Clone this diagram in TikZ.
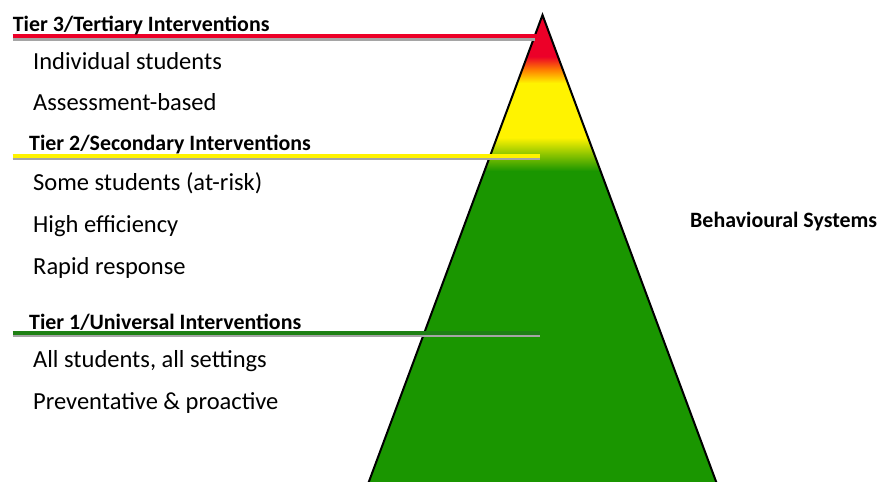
\documentclass[tikz,border=0pt]{standalone}
\usepackage{fontspec}
\setmainfont{Carlito}
\definecolor{tred}{RGB}{236,0,40}
\definecolor{tyellow}{RGB}{255,243,0}
\definecolor{tgreen}{RGB}{26,150,0}
\definecolor{lgreen}{RGB}{30,128,20}
\definecolor{shadowgray}{RGB}{165,165,165}
\tikzset{
  heading/.style={anchor=base west, inner sep=0pt, font=\fontsize{21.9}{24}\selectfont\bfseries},
  item/.style={anchor=base west, inner sep=0pt, font=\fontsize{24.5}{28}\selectfont},
  tierline/.style={line width=4pt},
  shadowline/.style={line width=2.5pt, shadowgray},
}
\begin{document}
\begin{tikzpicture}[x=1pt,y=-1pt]
\useasboundingbox (0,0) rectangle (881,482);
\coordinate (apex) at (542.5,15);
\coordinate (bl) at (365.8,490);
\coordinate (br) at (719.2,490);
% pyramid fill
\begin{scope}
  \clip (apex) -- (br) -- (bl) -- cycle;
  \fill[tred] (360,10) rectangle (725,57);
  \shade[top color=tred, bottom color=tyellow, middle color=orange] (360,56.5) rectangle (725,83);
  \fill[tyellow] (360,82.5) rectangle (725,138);
  \shade[top color=tyellow, bottom color=tgreen] (360,137.5) rectangle (725,171);
  \fill[tgreen] (360,170.5) rectangle (725,495);
\end{scope}
\draw[line width=2pt, line join=miter] (bl) -- (apex) -- (br);
% tier lines
\coordinate (l3a) at (12.5,36.3); \coordinate (l3b) at (541,36.3);
\coordinate (s3a) at (12.5,39.5); \coordinate (s3b) at (535,39.5);
\coordinate (l2a) at (12.5,156); \coordinate (l2b) at (540,156);
\coordinate (s2a) at (12.5,159.2); \coordinate (s2b) at (540,159.2);
\coordinate (l1a) at (12.5,333); \coordinate (l1b) at (540,333);
\coordinate (s1a) at (12.5,336.2); \coordinate (s1b) at (540,336.2);
\draw[shadowline] (s3a) -- (s3b);
\draw[tierline, tred] (l3a) -- (l3b);
\draw[shadowline] (s2a) -- (s2b);
\draw[tierline, tyellow] (l2a) -- (l2b);
\draw[shadowline] (s1a) -- (s1b);
\draw[tierline, lgreen] (l1a) -- (l1b);
% texts
\node[heading] (h3) at (12.7,31.5) {Tier 3/Tertiary Interventions};
\node[item] (i31) at (33,69) {Individual students};
\node[item] (i32) at (33,110.5) {Assessment-based};
\node[heading] (h2) at (29,150.5) {Tier 2/Secondary Interventions};
\node[item] (i21) at (33,190) {Some students (at-risk)};
\node[item] (i22) at (33,232) {High efficiency};
\node[item] (i23) at (33,274) {Rapid response};
\node[heading] (h1) at (29,329) {Tier 1/Universal Interventions};
\node[item] (i11) at (33,367) {All students, all settings};
\node[item] (i12) at (33,409.5) {Preventative \& proactive};
\node[anchor=base west, inner sep=0pt, font=\fontsize{21.9}{24}\selectfont\bfseries] (bs) at (690,227.5) {Behavioural Systems};
\end{tikzpicture}
\end{document}
